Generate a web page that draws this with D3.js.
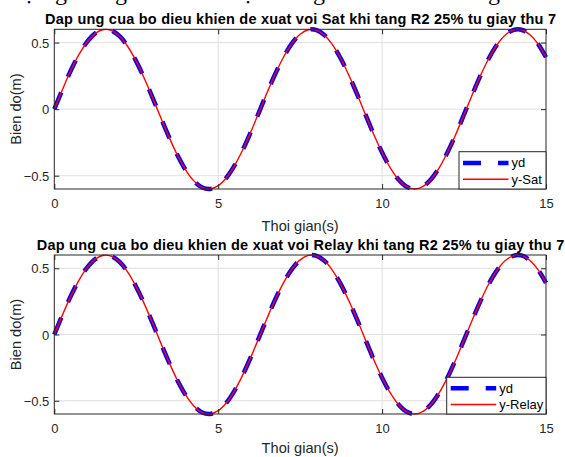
<!DOCTYPE html>
<html>
<head>
<meta charset="utf-8">
<script src="https://cdn.jsdelivr.net/npm/d3@7"></script>
<style>
  html, body { margin: 0; padding: 0; background: #fff; }
  svg { display: block; }
  text { font-family: "Liberation Sans", Arial, sans-serif; }
</style>
</head>
<body>
<svg id="chart" width="565" height="457"></svg>
<script>
// Time samples (s)
const time = [
  0, 0.25, 0.5, 0.75, 1, 1.25, 1.5, 1.75, 2, 2.25, 2.5, 2.75, 3, 3.25, 3.5, 3.75,
  4, 4.25, 4.5, 4.75, 5, 5.25, 5.5, 5.75, 6, 6.25, 6.5, 6.75, 7, 7.25, 7.5, 7.75,
  8, 8.25, 8.5, 8.75, 9, 9.25, 9.5, 9.75, 10, 10.25, 10.5, 10.75, 11, 11.25, 11.5, 11.75,
  12, 12.25, 12.5, 12.75, 13, 13.25, 13.5, 13.75, 14, 14.25, 14.5, 14.75, 15
];
// Reference trajectory yd (m)
const yd = [
  0, 0.148, 0.288, 0.409, 0.505, 0.569, 0.598, 0.590, 0.546, 0.467, 0.359, 0.229, 0.085, -0.065, -0.210, -0.343,
  -0.454, -0.537, -0.587, -0.600, -0.575, -0.515, -0.423, -0.305, -0.168, -0.020, 0.129, 0.270, 0.394, 0.494, 0.563, 0.597,
  0.594, 0.554, 0.479, 0.375, 0.247, 0.105, -0.045, -0.192, -0.326, -0.441, -0.528, -0.583, -0.600, -0.580, -0.525, -0.437,
  -0.322, -0.188, -0.040, 0.109, 0.252, 0.379, 0.482, 0.556, 0.594, 0.597, 0.561, 0.492, 0.390
];
// Output with the Sat controller (m)
const ySat = [
  0, 0.148, 0.288, 0.409, 0.505, 0.569, 0.598, 0.590, 0.546, 0.467, 0.359, 0.229, 0.085, -0.065, -0.210, -0.343,
  -0.454, -0.537, -0.587, -0.600, -0.575, -0.515, -0.423, -0.305, -0.168, -0.020, 0.129, 0.270, 0.394, 0.494, 0.563, 0.597,
  0.594, 0.554, 0.479, 0.375, 0.247, 0.105, -0.045, -0.192, -0.326, -0.441, -0.528, -0.583, -0.600, -0.580, -0.525, -0.437,
  -0.322, -0.188, -0.040, 0.109, 0.252, 0.379, 0.482, 0.556, 0.594, 0.597, 0.561, 0.492, 0.390
];
// Output with the Relay controller (m)
const yRelay = [
  0, 0.148, 0.288, 0.409, 0.505, 0.569, 0.598, 0.590, 0.546, 0.467, 0.359, 0.229, 0.085, -0.065, -0.210, -0.343,
  -0.454, -0.537, -0.587, -0.600, -0.575, -0.515, -0.423, -0.305, -0.168, -0.020, 0.129, 0.270, 0.394, 0.494, 0.563, 0.597,
  0.594, 0.554, 0.479, 0.375, 0.247, 0.105, -0.045, -0.192, -0.326, -0.441, -0.528, -0.583, -0.600, -0.580, -0.525, -0.437,
  -0.322, -0.188, -0.040, 0.109, 0.252, 0.379, 0.482, 0.556, 0.594, 0.597, 0.561, 0.492, 0.390
];

const xTicks = [0, 5, 10, 15];
const yTicks = [-0.5, 0, 0.5];
const xDomain = [0, 15];
const yDomain = [-0.6, 0.6];

const titles = [
  "Dap ung cua bo dieu khien de xuat voi Sat khi tang R2 25% tu giay thu 7",
  "Dap ung cua bo dieu khien de xuat voi Relay khi tang R2 25% tu giay thu 7"
];
const legendLabels = [["yd", "y-Sat"], ["yd", "y-Relay"]];
const outputs = [ySat, yRelay];
const xLabel = "Thoi gian(s)";
const yLabel = "Bien do(m)";

const svg = d3.select("#chart");
const ink = "#262626";

// Lower edge of a line of document text sitting above the figure
const topFrag = svg.append("g")
  .attr("font-size", 24).attr("fill", "#000");
[["ạ", 24], ["g", 55], ["g", 115], ["ạ", 243], ["g", 313], ["g", 488]].forEach(([c, x]) => {
  topFrag.append("text").attr("x", x).attr("y", -0.5)
    .style("font-family", "'Liberation Serif', serif").text(c);
});

const panels = [
  { top: 29.3, bottom: 189, titleY: 23.5, tickY: 208, xlabY: 231, legend: { x: 459, y: 151.7, w: 87, h: 37.3 } },
  { top: 255, bottom: 414, titleY: 250, tickY: 433, xlabY: 453, legend: { x: 446.7, y: 377.3, w: 99.3, h: 36.7 } }
];
const left = 54.3, right = 546;

panels.forEach((p, i) => {
  const x = d3.scaleLinear().domain(xDomain).range([left, right]);
  const y = d3.scaleLinear().domain(yDomain).range([p.bottom, p.top]);
  const g = svg.append("g");

  // grid
  g.append("g").selectAll("line").data(xTicks.slice(1, -1)).join("line")
    .attr("x1", d => x(d)).attr("x2", d => x(d))
    .attr("y1", p.top).attr("y2", p.bottom)
    .attr("stroke", "#dfdfdf").attr("stroke-width", 1);
  g.append("g").selectAll("line").data(yTicks).join("line")
    .attr("x1", left).attr("x2", right)
    .attr("y1", d => y(d)).attr("y2", d => y(d))
    .attr("stroke", "#dfdfdf").attr("stroke-width", 1);

  const line = (vals) => d3.line()
    .x((d, k) => x(time[k]))
    .y(d => y(d))
    .curve(d3.curveCatmullRom)(vals);

  g.append("path").attr("d", line(yd))
    .attr("fill", "none").attr("stroke", "#0000ff")
    .attr("stroke-width", 4.5).attr("stroke-dasharray", "18 17");
  g.append("path").attr("d", line(outputs[i]))
    .attr("fill", "none").attr("stroke", "#ff0000")
    .attr("stroke-width", 1.4);

  // axes via d3 axis generators, ticks pointing inward
  const axB = g.append("g").attr("transform", `translate(0,${p.bottom})`)
    .call(d3.axisBottom(x).tickValues(xTicks).tickSize(-5).tickFormat(d3.format("d")));
  const axT = g.append("g").attr("transform", `translate(0,${p.top})`)
    .call(d3.axisTop(x).tickValues(xTicks).tickSize(-5).tickFormat(""));
  const axL = g.append("g").attr("transform", `translate(${left},0)`)
    .call(d3.axisLeft(y).tickValues(yTicks).tickSize(-5).tickFormat(d => d === 0 ? "0" : d3.format(".1f")(d)));
  const axR = g.append("g").attr("transform", `translate(${right},0)`)
    .call(d3.axisRight(y).tickValues(yTicks).tickSize(-5).tickFormat(""));
  [axB, axT, axL, axR].forEach(a => {
    a.select(".domain").remove();
    a.selectAll(".tick line").attr("stroke", ink);
    a.selectAll("text").attr("fill", ink).attr("font-size", 13)
      .style("font-family", "'Liberation Sans', Arial, sans-serif");
  });
  axB.selectAll(".tick text").attr("y", p.tickY - p.bottom).attr("dy", 0);
  axL.selectAll(".tick text").attr("x", -5).attr("dy", "0.35em");

  // axes box
  g.append("rect").attr("x", left).attr("y", p.top)
    .attr("width", right - left).attr("height", p.bottom - p.top)
    .attr("fill", "none").attr("stroke", ink).attr("stroke-width", 1);

  // title
  g.append("text").attr("x", (left + right) / 2 + 0.5).attr("y", p.titleY)
    .attr("text-anchor", "middle").attr("font-weight", "bold")
    .attr("font-size", 14.5).attr("letter-spacing", 0.22)
    .attr("fill", "#000").text(titles[i]);

  // axis labels
  g.append("text").attr("x", (left + right) / 2).attr("y", p.xlabY)
    .attr("text-anchor", "middle").attr("font-size", 14.6).attr("fill", ink).text(xLabel);
  g.append("text")
    .attr("transform", `translate(21,${(p.top + p.bottom) / 2}) rotate(-90)`)
    .attr("text-anchor", "middle").attr("font-size", 14.6).attr("fill", ink).text(yLabel);

  // legend
  const L = p.legend;
  const lg = g.append("g");
  lg.append("rect").attr("x", L.x).attr("y", L.y).attr("width", L.w).attr("height", L.h)
    .attr("fill", "#fff").attr("stroke", ink).attr("stroke-width", 1);
  const sx0 = L.x + 4, sx1 = L.x + 49.5;
  const rows = [L.y + L.h * 0.3, L.y + L.h * 0.74];
  lg.append("line").attr("x1", sx0).attr("x2", sx1).attr("y1", rows[0]).attr("y2", rows[0])
    .attr("stroke", "#0000ff").attr("stroke-width", 4.5).attr("stroke-dasharray", "18 17");
  lg.append("line").attr("x1", sx0).attr("x2", sx1).attr("y1", rows[1]).attr("y2", rows[1])
    .attr("stroke", "#ff0000").attr("stroke-width", 1.4);
  legendLabels[i].forEach((t, k) => {
    lg.append("text").attr("x", sx1 + 3).attr("y", rows[k]).attr("dy", "0.35em")
      .attr("font-size", 13).attr("fill", "#000").text(t);
  });
});
</script>
</body>
</html>
